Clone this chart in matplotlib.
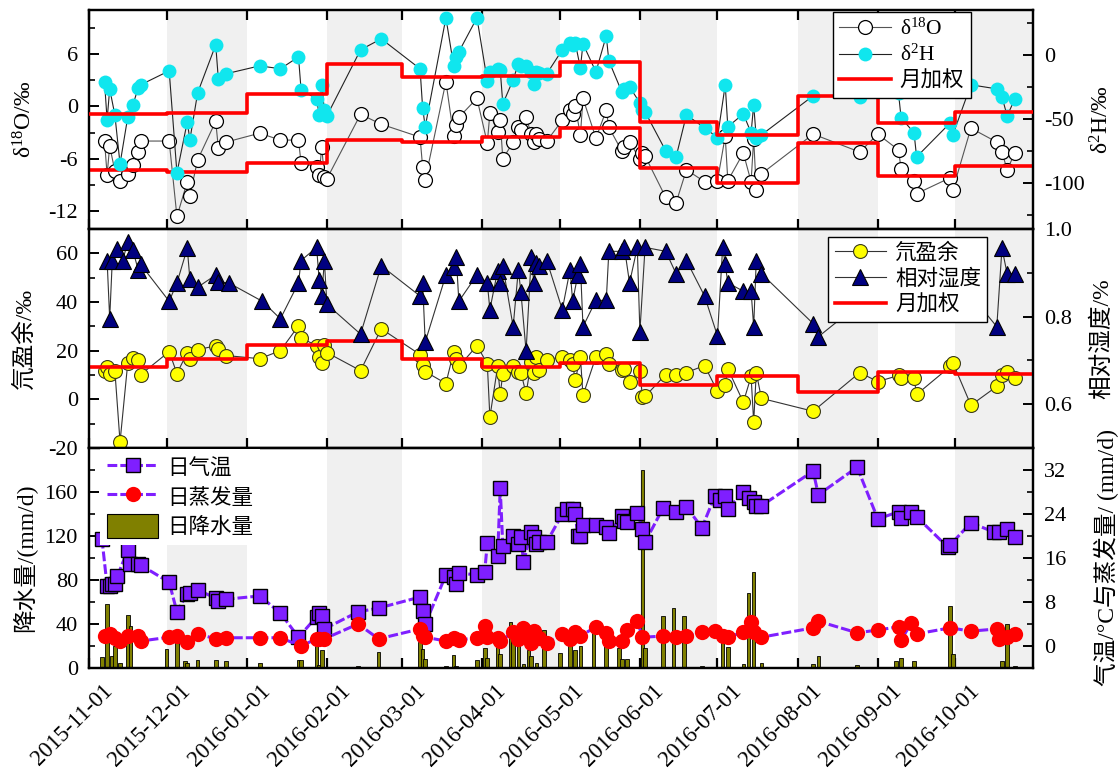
"""Isotope, deuterium excess and weather record, Nov 2015 - Oct 2016."""

import matplotlib

matplotlib.use("Agg")

import matplotlib.dates as mdates
import matplotlib.pyplot as plt
import matplotlib.transforms as mtransforms
import pandas as pd
from matplotlib.patches import Patch

plt.rcParams["font.family"] = ["Liberation Serif", "Noto Sans CJK SC"]
plt.rcParams["mathtext.fontset"] = "custom"
plt.rcParams["mathtext.rm"] = "Liberation Serif"
plt.rcParams["mathtext.it"] = "Liberation Serif:italic"
plt.rcParams["axes.unicode_minus"] = False

# ---- isotope samples -------------------------------------------------------
iso_dates = [
    "2015-11-07", "2015-11-08", "2015-11-09", "2015-11-11", "2015-11-13",
    "2015-11-16", "2015-11-18", "2015-11-20", "2015-11-21", "2015-12-02",
    "2015-12-05", "2015-12-09", "2015-12-10", "2015-12-13", "2015-12-20",
    "2015-12-21", "2015-12-24", "2016-01-06", "2016-01-14", "2016-01-21",
    "2016-01-22", "2016-01-28", "2016-01-29", "2016-01-30", "2016-01-31",
    "2016-02-01", "2016-02-14", "2016-02-22", "2016-03-08", "2016-03-09",
    "2016-03-10", "2016-03-18", "2016-03-21", "2016-03-22", "2016-03-23",
    "2016-03-30", "2016-04-03", "2016-04-04", "2016-04-07", "2016-04-08",
    "2016-04-09", "2016-04-13", "2016-04-15", "2016-04-16", "2016-04-18",
    "2016-04-20", "2016-04-21", "2016-04-22", "2016-04-23", "2016-04-26",
    "2016-05-02", "2016-05-05", "2016-05-06", "2016-05-07", "2016-05-09",
    "2016-05-10", "2016-05-15", "2016-05-19", "2016-05-20", "2016-05-25",
    "2016-05-26", "2016-05-28", "2016-06-01", "2016-06-02", "2016-06-03",
    "2016-06-11", "2016-06-15", "2016-06-19", "2016-06-26", "2016-07-01",
    "2016-07-04", "2016-07-05", "2016-07-11", "2016-07-14", "2016-07-15",
    "2016-07-16", "2016-07-18", "2016-08-07", "2016-08-25", "2016-09-01",
    "2016-09-09", "2016-09-10", "2016-09-15", "2016-09-16", "2016-09-29",
    "2016-09-30", "2016-10-07", "2016-10-17", "2016-10-19", "2016-10-21",
    "2016-10-24",
]
d18o = [
    -3.96, -7.81, -4.53, -7.36, -8.49, -7.70, -6.68, -5.21, -3.96, -3.96,
    -12.57, -8.60, -10.19, -6.11, -1.70, -4.75, -4.08, -3.06, -3.85, -3.85,
    -6.45, -6.91, -7.81, -4.64, -8.04, -8.26, -0.91, -2.04, -3.51, -6.91,
    -8.38, 2.83, -3.40, -2.15, -1.25, 0.91, -4.19, -0.79, -2.94, -1.58,
    -6.00, -4.08, -2.38, -2.72, -1.25, -3.17, -4.08, -3.17, -3.74, -3.96,
    -1.58, -0.45, -0.91, 0.00, -3.28, 0.91, -3.62, -0.45, -2.38, -5.09,
    -4.64, -4.08, -6.00, -5.32, -5.66, -10.40, -11.00, -7.24, -8.60, -8.49,
    -3.40, -8.49, -5.32, -8.60, -3.71, -9.51, -7.70, -3.17, -5.21, -3.17,
    -4.98, -7.13, -8.49, -9.96, -8.15, -9.51, -2.49, -4.08, -5.21, -7.24,
    -5.32,
]
d2h = [
    -21.1, -50.8, -26.6, -46.9, -85.1, -48.4, -39.1, -25.8, -23.4, -12.5,
    -92.2, -52.3, -66.4, -29.7, 7.8, -18.7, -14.8, -8.6, -10.9, -1.6,
    -27.3, -34.4, -46.9, -23.4, -43.0, -47.6, 3.9, 12.5, -10.9, -41.4,
    -56.2, 28.9, -8.6, -1.6, 2.3, 28.9, -20.3, -13.3, -10.9, -11.7,
    -38.3, -19.5, -7.0, -8.6, -8.6, -13.3, -22.6, -13.3, -14.1, -14.8,
    3.9, 9.4, 7.8, 9.4, -10.2, 8.6, -13.3, 14.8, -4.7, -28.9,
    -26.6, -25.0, -37.5, -43.0, -44.5, -75.0, -79.7, -46.9, -57.0, -64.6,
    -23.4, -56.2, -46.1, -60.9, -39.1, -64.8, -62.5, -32.0, -32.8, -18.1,
    -30.0, -49.2, -60.9, -79.7, -53.1, -62.5, -23.4, -26.6, -32.8, -47.6,
    -34.4,
]
dexcess = [
    11.8, 13.1, 10.6, 11.8, -17.5, 15.1, 17.1, 16.3, 10.2, 19.6,
    10.6, 19.2, 16.7, 20.4, 22.0, 20.8, 18.0, 16.7, 20.0, 30.2,
    25.3, 22.0, 17.5, 15.1, 22.4, 19.2, 11.8, 29.0, 18.4, 14.3,
    11.4, 6.5, 19.6, 16.7, 13.5, 22.0, 14.7, -7.3, 13.5, 2.0,
    10.6, 13.9, 11.4, 11.0, 2.4, 15.5, 11.0, 17.5, 12.2, 16.3,
    17.5, 16.3, 14.7, 7.8, 17.5, 1.6, 17.5, 18.8, 14.7, 12.2,
    12.6, 7.3, 11.8, 0.8, 1.2, 10.2, 10.2, 11.0, 13.9, 3.3,
    5.7, 12.6, -1.2, 9.4, -9.4, 11.0, 0.4, -4.9, 11.0, 7.3,
    9.8, 8.6, 8.6, 2.0, 13.5, 15.1, -2.4, 5.3, 10.2, 11.4,
    8.6,
]

# ---- monthly amount-weighted means -----------------------------------------
month_starts = [
    "2015-11-01", "2015-12-01", "2016-01-01", "2016-02-01", "2016-03-01",
    "2016-04-01", "2016-05-01", "2016-06-01", "2016-07-01", "2016-08-01",
    "2016-09-01", "2016-10-01",
]
period_end = "2016-10-31"
month_d18o = [-7.25, -7.47, -6.45, -3.85, -4.08, -3.51, -2.49, -7.02, -8.72, -4.19, -7.92, -6.79]
month_d2h = [-46.1, -45.3, -30.5, -7.0, -17.2, -16.4, -5.5, -52.3, -62.5, -32.0, -53.1, -44.5]
month_dex = [13.1, 16.7, 22.4, 24.1, 16.7, 13.1, 15.1, 5.7, 9.4, 2.9, 11.4, 10.6]

# ---- relative humidity -----------------------------------------------------
rh_dates = [
    "2015-11-08", "2015-11-09", "2015-11-10", "2015-11-12", "2015-11-14",
    "2015-11-16", "2015-11-18", "2015-11-20", "2015-11-21", "2015-12-02",
    "2015-12-05", "2015-12-09", "2015-12-10", "2015-12-13", "2015-12-20",
    "2015-12-21", "2015-12-25", "2016-01-07", "2016-01-14", "2016-01-21",
    "2016-01-22", "2016-01-28", "2016-01-29", "2016-01-30", "2016-01-31",
    "2016-02-01", "2016-02-14", "2016-02-22", "2016-03-08", "2016-03-09",
    "2016-03-10", "2016-03-18", "2016-03-21", "2016-03-22", "2016-03-23",
    "2016-03-30", "2016-04-03", "2016-04-04", "2016-04-07", "2016-04-08",
    "2016-04-09", "2016-04-13", "2016-04-15", "2016-04-16", "2016-04-18",
    "2016-04-20", "2016-04-21", "2016-04-22", "2016-04-23", "2016-04-26",
    "2016-05-02", "2016-05-05", "2016-05-06", "2016-05-08", "2016-05-09",
    "2016-05-10", "2016-05-15", "2016-05-19", "2016-05-20", "2016-05-25",
    "2016-05-26", "2016-05-28", "2016-05-31", "2016-06-01", "2016-06-03",
    "2016-06-11", "2016-06-15", "2016-06-19", "2016-06-26", "2016-07-01",
    "2016-07-03", "2016-07-04", "2016-07-05", "2016-07-11", "2016-07-14",
    "2016-07-15", "2016-07-16", "2016-07-18", "2016-08-07", "2016-08-09",
    "2016-08-25", "2016-09-01", "2016-09-10", "2016-09-16", "2016-09-29",
    "2016-10-07", "2016-10-17", "2016-10-19", "2016-10-21", "2016-10-24",
]
rh = [
    0.928, 0.795, 0.928, 0.954, 0.928, 0.970, 0.951, 0.907, 0.919, 0.835,
    0.877, 0.956, 0.886, 0.867, 0.895, 0.879, 0.877, 0.835, 0.795, 0.877,
    0.928, 0.958, 0.884, 0.847, 0.928, 0.828, 0.760, 0.916, 0.847, 0.877,
    0.742, 0.895, 0.914, 0.937, 0.835, 0.895, 0.877, 0.816, 0.905, 0.877,
    0.916, 0.777, 0.907, 0.856, 0.721, 0.937, 0.877, 0.923, 0.916, 0.928,
    0.816, 0.907, 0.835, 0.895, 0.919, 0.777, 0.837, 0.837, 0.949, 0.949,
    0.958, 0.877, 0.958, 0.765, 0.958, 0.949, 0.898, 0.928, 0.847, 0.756,
    0.958, 0.919, 0.877, 0.858, 0.858, 0.777, 0.928, 0.898, 0.784, 0.754,
    0.830, 0.870, 0.900, 0.860, 0.880, 0.849, 0.777, 0.956, 0.898, 0.898,
]

# ---- daily air temperature -------------------------------------------------
temp_dates = [
    "2015-11-06", "2015-11-08", "2015-11-09", "2015-11-10", "2015-11-11",
    "2015-11-12", "2015-11-16", "2015-11-17", "2015-11-20", "2015-11-21",
    "2015-12-02", "2015-12-05", "2015-12-09", "2015-12-10", "2015-12-13",
    "2015-12-20", "2015-12-21", "2015-12-24", "2016-01-06", "2016-01-14",
    "2016-01-21", "2016-01-28", "2016-01-29", "2016-01-30", "2016-01-31",
    "2016-02-13", "2016-02-21", "2016-03-08", "2016-03-09", "2016-03-10",
    "2016-03-18", "2016-03-21", "2016-03-22", "2016-03-23", "2016-03-30",
    "2016-04-02", "2016-04-03", "2016-04-07", "2016-04-08", "2016-04-09",
    "2016-04-13", "2016-04-15", "2016-04-16", "2016-04-17", "2016-04-20",
    "2016-04-21", "2016-04-22", "2016-04-23", "2016-04-26", "2016-05-02",
    "2016-05-04", "2016-05-06", "2016-05-07", "2016-05-08", "2016-05-09",
    "2016-05-10", "2016-05-15", "2016-05-19", "2016-05-20", "2016-05-25",
    "2016-05-26", "2016-05-27", "2016-05-31", "2016-06-02", "2016-06-03",
    "2016-06-10", "2016-06-15", "2016-06-19", "2016-06-25", "2016-06-30",
    "2016-07-02", "2016-07-04", "2016-07-05", "2016-07-11", "2016-07-13",
    "2016-07-15", "2016-07-16", "2016-07-18", "2016-08-07", "2016-08-09",
    "2016-08-24", "2016-09-01", "2016-09-09", "2016-09-10", "2016-09-14",
    "2016-09-16", "2016-09-28", "2016-09-29", "2016-10-07", "2016-10-16",
    "2016-10-18", "2016-10-21", "2016-10-24",
]
temp = [
    19.5, 10.9, 10.9, 11.3, 11.3, 12.7, 17.5, 14.9, 14.9, 14.7,
    11.6, 6.2, 9.5, 9.6, 10.2, 8.7, 8.2, 8.5, 9.1, 6.0,
    1.6, 5.3, 6.0, 5.5, 3.1, 6.2, 6.9, 8.9, 6.4, 4.0,
    12.9, 12.5, 11.3, 13.3, 12.9, 13.5, 18.7, 16.4, 28.7, 18.2,
    20.0, 18.5, 19.8, 15.3, 20.7, 19.8, 18.5, 18.9, 18.9, 24.0,
    24.9, 24.9, 24.0, 20.0, 20.0, 22.0, 22.0, 21.6, 20.5, 23.6,
    22.7, 22.5, 24.2, 21.3, 18.9, 25.1, 24.4, 25.3, 21.5, 27.3,
    26.5, 27.3, 24.9, 28.0, 26.9, 26.2, 25.5, 25.5, 31.8, 27.5,
    32.5, 23.1, 24.4, 23.3, 24.4, 23.5, 18.0, 18.4, 22.4, 20.7,
    20.7, 21.3, 19.8,
]

# ---- daily pan evaporation -------------------------------------------------
evap_dates = [
    "2015-11-07", "2015-11-09", "2015-11-11", "2015-11-13", "2015-11-16",
    "2015-11-20", "2015-11-21", "2015-12-02", "2015-12-05", "2015-12-09",
    "2015-12-13", "2015-12-20", "2015-12-24", "2016-01-06", "2016-01-14",
    "2016-01-22", "2016-01-28", "2016-01-29", "2016-01-31", "2016-02-13",
    "2016-02-21", "2016-03-08", "2016-03-09", "2016-03-10", "2016-03-18",
    "2016-03-21", "2016-03-23", "2016-03-30", "2016-04-02", "2016-04-03",
    "2016-04-07", "2016-04-08", "2016-04-13", "2016-04-15", "2016-04-17",
    "2016-04-19", "2016-04-20", "2016-04-21", "2016-04-23", "2016-04-26",
    "2016-05-02", "2016-05-05", "2016-05-07", "2016-05-09", "2016-05-15",
    "2016-05-19", "2016-05-20", "2016-05-25", "2016-05-27", "2016-05-31",
    "2016-06-02", "2016-06-10", "2016-06-15", "2016-06-19", "2016-06-25",
    "2016-06-30", "2016-07-03", "2016-07-05", "2016-07-11", "2016-07-14",
    "2016-07-15", "2016-07-18", "2016-08-07", "2016-08-09", "2016-08-24",
    "2016-09-01", "2016-09-09", "2016-09-10", "2016-09-14", "2016-09-16",
    "2016-09-29", "2016-10-07", "2016-10-17", "2016-10-18", "2016-10-21",
    "2016-10-24",
]
evap = [
    1.8, 2.2, 1.5, 0.9, 1.8, 1.8, 0.9, 1.6, 1.8, 0.7,
    2.2, 1.3, 1.5, 1.5, 1.5, 0.0, 1.3, 1.3, 1.3, 4.0,
    1.3, 3.1, 1.8, 1.6, 0.9, 1.5, 1.1, 1.5, 3.6, 1.6,
    1.5, 0.9, 2.5, 1.3, 3.3, 1.6, 0.5, 2.7, 1.5, 0.5,
    2.2, 1.3, 2.5, 1.8, 3.5, 2.4, 0.9, 0.9, 2.9, 4.5,
    1.6, 1.8, 1.6, 1.8, 2.5, 2.7, 1.8, 1.6, 2.5, 4.4,
    2.5, 1.6, 3.3, 4.5, 2.4, 2.9, 3.5, 1.1, 4.2, 2.2,
    3.3, 2.7, 3.1, 1.3, 1.6, 2.2,
]

# ---- daily precipitation ---------------------------------------------------
rain_dates = [
    "2015-11-06", "2015-11-08", "2015-11-10", "2015-11-11", "2015-11-13",
    "2015-11-16", "2015-11-17", "2015-12-01", "2015-12-05", "2015-12-08",
    "2015-12-09", "2015-12-13", "2015-12-20", "2015-12-21", "2015-12-24",
    "2016-01-06", "2016-01-14", "2016-01-21", "2016-01-22", "2016-01-28",
    "2016-01-29", "2016-01-30", "2016-02-13", "2016-02-21", "2016-03-08",
    "2016-03-09", "2016-03-10", "2016-03-18", "2016-03-21", "2016-03-22",
    "2016-03-30", "2016-04-02", "2016-04-03", "2016-04-07", "2016-04-08",
    "2016-04-12", "2016-04-13", "2016-04-15", "2016-04-17", "2016-04-19",
    "2016-04-20", "2016-04-22", "2016-04-25", "2016-05-01", "2016-05-05",
    "2016-05-07", "2016-05-09", "2016-05-14", "2016-05-19", "2016-05-24",
    "2016-05-25", "2016-05-27", "2016-06-02", "2016-06-03", "2016-06-10",
    "2016-06-14", "2016-06-18", "2016-06-25", "2016-07-03", "2016-07-05",
    "2016-07-11", "2016-07-13", "2016-07-15", "2016-07-18", "2016-08-07",
    "2016-08-09", "2016-08-24", "2016-09-08", "2016-09-10", "2016-09-15",
    "2016-09-29", "2016-09-30", "2016-10-07", "2016-10-19", "2016-10-21",
    "2016-10-24",
]
rain = [
    10, 58, 11, 20, 5, 48, 38, 17, 24, 6,
    5, 7, 7, 1, 6, 5, 0.5, 7, 7, 20,
    3, 16, 2, 15, 24, 17, 8, 1.5, 12, 2,
    7, 18, 9, 21, 13, 42, 30, 24, 4, 16,
    11, 5, 35, 14, 23, 16, 20, 32, 20, 18,
    8, 8, 180, 18, 47, 55, 47, 1.5, 26, 19,
    4, 68, 87, 5, 4, 11, 3, 6, 9, 6,
    56, 13, 0.6, 6, 40, 1.5,
]

CYAN = "#10E6EE"
PURPLE = "#7F1FFF"
OLIVE = "#808000"
RED = "#FF0000"
BAND = "#F0F0F0"
DASH = (0, (3.2, 1.0))

TICK_SIZE = 16
DATE_SIZE = 16.5
LABEL_SIZE = 17
LEGEND_SIZE = 15.5


def _dates(values):
    return pd.to_datetime(values)


def _shade_months(ax):
    edges = list(_dates(month_starts)) + [pd.Timestamp(period_end)]
    for i in range(1, len(edges) - 1, 2):
        ax.axvspan(edges[i], edges[i + 1], color=BAND, lw=0, zorder=0)


def _monthly_step(ax, values, **kwargs):
    edges = list(_dates(month_starts)) + [pd.Timestamp(period_end)]
    return ax.step(edges, list(values) + [values[-1]], where="post",
                   color=RED, lw=2.6, **kwargs)[0]


def _style_y(ax, ylim, major, minor):
    ax.set_ylim(*ylim)
    ax.set_yticks(major)
    ax.set_yticks(minor, minor=True)
    ax.tick_params(axis="y", which="major", direction="in", length=7,
                   width=1.4, labelsize=TICK_SIZE, pad=8)
    ax.tick_params(axis="y", which="minor", direction="in", length=4,
                   width=1.2)
    for spine in ax.spines.values():
        spine.set_linewidth(1.6)


def _set_ylabel(ax, text, xpos):
    ax.set_ylabel(text, fontsize=LABEL_SIZE)
    ax.yaxis.set_label_coords(xpos, 0.5)
    ax.yaxis.label.set_verticalalignment("center")


def _legend(ax, handles, loc_xy, **kwargs):
    leg = ax.legend(handles=handles, loc="upper left", bbox_to_anchor=loc_xy,
                    fontsize=LEGEND_SIZE, fancybox=False, framealpha=1,
                    borderpad=0.3, labelspacing=0.25, handlelength=2.4,
                    handletextpad=0.4, borderaxespad=0, numpoints=1, **kwargs)
    leg.get_frame().set_linewidth(1.0)
    return leg


def main():
    fig = plt.figure(figsize=(11.2, 7.78), dpi=100)
    left, width = 89 / 1120, 944 / 1120
    ax_iso = fig.add_axes([left, 1 - 229 / 778, width, 219 / 778])
    ax_dex = fig.add_axes([left, 1 - 448 / 778, width, 219 / 778], sharex=ax_iso)
    ax_met = fig.add_axes([left, 1 - 668 / 778, width, 220 / 778], sharex=ax_iso)

    for ax in (ax_iso, ax_dex, ax_met):
        _shade_months(ax)

    # top: stable isotopes
    h18 = ax_iso.plot(_dates(iso_dates), d18o, "-o", color="#555555", lw=0.8,
                      ms=10, mfc="white", mec="black", mew=0.9,
                      label="δ$^{18}$O", zorder=3)[0]
    _monthly_step(ax_iso, month_d18o, zorder=4)
    ax_h = ax_iso.twinx()
    h2 = ax_h.plot(_dates(iso_dates), d2h, "-o", color="#222222", lw=0.8,
                   ms=10, mfc=CYAN, mec=CYAN, mew=0, label="δ$^{2}$H",
                   zorder=3)[0]
    hw = _monthly_step(ax_h, month_d2h, zorder=4, label="月加权")
    _style_y(ax_iso, (-14, 11), [-12, -6, 0, 6], [-9, -3, 3, 9])
    _style_y(ax_h, (-136, 35), [-100, -50, 0], [-125, -75, -25, 25])
    _set_ylabel(ax_iso, "δ$^{18}$O/‰", -0.068)
    _set_ylabel(ax_h, "δ$^{2}$H/‰", 1.073)
    _legend(ax_h, [h18, h2, hw], (0.788, 0.991), edgecolor="black")

    # middle: deuterium excess and relative humidity
    hd = ax_dex.plot(_dates(iso_dates), dexcess, "-o", color="#333333", lw=0.8,
                     ms=10, mfc="#FFFF00", mec="#3A3A1A", mew=0.8,
                     label="氘盈余", zorder=3)[0]
    hdw = _monthly_step(ax_dex, month_dex, zorder=4, label="月加权")
    ax_rh = ax_dex.twinx()
    hr = ax_rh.plot(_dates(rh_dates), rh, "-^", color="#333333", lw=0.8,
                    ms=11, mfc="#000080", mec="black", mew=0.8,
                    label="相对湿度", zorder=3)[0]
    _style_y(ax_dex, (-20, 70), [-20, 0, 20, 40, 60], [-10, 10, 30, 50])
    _style_y(ax_rh, (0.5, 1.0), [0.6, 0.8, 1.0], [0.7, 0.9])
    _set_ylabel(ax_dex, "氘盈余/‰", -0.068)
    _set_ylabel(ax_rh, "相对湿度/%", 1.073)
    _legend(ax_rh, [hd, hr, hdw], (0.783, 0.963), edgecolor="black")

    # bottom: precipitation, temperature and evaporation
    ax_met.bar(_dates(rain_dates), rain, width=1.4, color=OLIVE,
               edgecolor="black", lw=0.6, zorder=2)
    ax_t = ax_met.twinx()
    ht = ax_t.plot(_dates(temp_dates), temp, ls=DASH, color=PURPLE, lw=2.2,
                   marker="s", ms=10, mfc=PURPLE, mec="black", mew=1.0,
                   label="日气温", zorder=3)[0]
    he = ax_t.plot(_dates(evap_dates), evap, ls=DASH, color=PURPLE, lw=2.2,
                   marker="o", ms=11, mfc=RED, mec=RED, mew=0,
                   label="日蒸发量", zorder=3)[0]
    hp = Patch(facecolor=OLIVE, edgecolor="black", lw=0.8, label="日降水量")
    _style_y(ax_met, (0, 200), [0, 40, 80, 120, 160], [20, 60, 100, 140, 180])
    _style_y(ax_t, (-4, 36), [0, 8, 16, 24, 32], [4, 12, 20, 28])
    _set_ylabel(ax_met, "降水量/(mm/d)", -0.068)
    _set_ylabel(ax_t, "气温/°C与蒸发量/ (mm/d)", 1.078)
    leg = _legend(ax_t, [ht, he, hp], (0.012, 0.995), edgecolor="none",
                  handleheight=1.3)
    leg.set_zorder(10)

    # shared date axis
    ticks = _dates(month_starts)
    ax_met.set_xlim(pd.Timestamp(month_starts[0]), pd.Timestamp(period_end))
    ax_met.set_xticks(ticks)
    ax_met.xaxis.set_major_formatter(mdates.DateFormatter("%Y-%m-%d"))
    for ax in (ax_iso, ax_dex, ax_met):
        ax.tick_params(axis="x", which="major", direction="in", length=7,
                       width=1.6, labelbottom=False)
    ax_iso.tick_params(axis="x", top=True)
    ax_met.tick_params(axis="x", labelbottom=True, labelsize=DATE_SIZE, pad=9)
    offset = mtransforms.ScaledTranslation(0.13, 0, fig.dpi_scale_trans)
    for label in ax_met.get_xticklabels():
        label.set_rotation(45)
        label.set_rotation_mode("anchor")
        label.set_horizontalalignment("right")
        label.set_verticalalignment("top")
        label.set_transform(label.get_transform() + offset)

    fig.savefig("out.png", dpi=100)
    plt.close(fig)


if __name__ == "__main__":
    main()
